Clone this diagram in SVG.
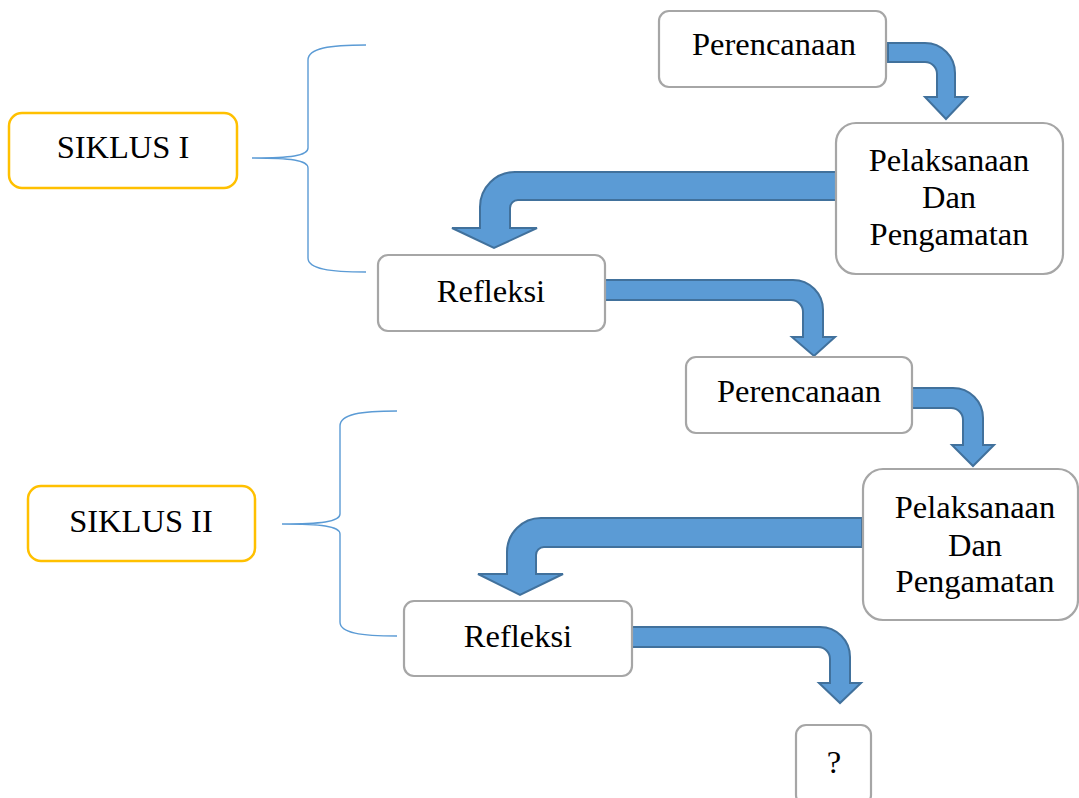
<svg xmlns="http://www.w3.org/2000/svg" width="1079" height="798" viewBox="0 0 1079 798">
<style>
.box{fill:#ffffff;stroke:#a6a6a6;stroke-width:2.2}
.cyc{fill:#ffffff;stroke:#ffc000;stroke-width:2.5}
.t{font-family:"Liberation Serif","Times New Roman",serif;font-size:32.5px;fill:#000000;text-anchor:middle}
.arr{fill:#5b9bd5;stroke:#41719c;stroke-width:2;stroke-linejoin:miter}
.brace{fill:none;stroke:#5b9bd5;stroke-width:1.4}
</style>
<rect width="1079" height="798" fill="#ffffff"/>
<g id="connectors">
<path class="arr" d="M888,43 H925 A30,30 0 0 1 955,73 V97 H967 L946,119 L925,97 H937 V74 A12,12 0 0 0 925,62 H888 Z"/>
<path class="arr" d="M836,172 H515 A35,35 0 0 0 480,207 V228 H452 L494,248 L537,228 H510 V208 A8,8 0 0 1 518,200 H836 Z"/>
<path class="arr" d="M605,280 H793 A30,30 0 0 1 823,310 V337 H835 L814,356 L792,337 H803 V312 A12,12 0 0 0 791,300 H605 Z"/>
<path class="arr" d="M912,388 H953 A30,30 0 0 1 983,418 V445 H994 L973,466 L952,445 H963 V420 A12,12 0 0 0 951,408 H912 Z"/>
<path class="arr" d="M862,518 H541 A34,34 0 0 0 507,552 V574 H478 L520,595 L563,574 H536 V555 A8,8 0 0 1 544,547 H862 Z"/>
<path class="arr" d="M632,627 H820 A30,30 0 0 1 850,657 V683 H861 L840,703 L819,683 H830 V659 A12,12 0 0 0 818,647 H632 Z"/>
<path class="brace" d="M366,45 C330,45 308,48 308,60 V148 C308,156 290,158 252,158 C290,158 308,160 308,168 V258 C308,269 330,272 366,272"/>
<path class="brace" d="M397,411 C361,411 340,414 340,426 V514 C340,522 320,524 282,524 C320,524 340,526 340,534 V622 C340,633 361,636 397,636"/>
</g>
<g id="siklus1">
<rect class="cyc" x="9" y="113" width="228" height="75" rx="13"/>
<text class="t" x="123" y="158">SIKLUS I</text>
</g>
<g id="siklus2">
<rect class="cyc" x="28" y="486" width="227" height="75" rx="13"/>
<text class="t" x="141" y="532">SIKLUS II</text>
</g>
<g id="perencanaan1">
<rect class="box" x="659" y="11" width="227" height="76" rx="10"/>
<text class="t" x="774" y="55">Perencanaan</text>
</g>
<g id="pelaksanaan1">
<rect class="box" x="836" y="123" width="227" height="151" rx="20"/>
<text class="t" x="949" y="171">Pelaksanaan</text>
<text class="t" x="949" y="208">Dan</text>
<text class="t" x="949" y="245">Pengamatan</text>
</g>
<g id="refleksi1">
<rect class="box" x="378" y="255" width="227" height="76" rx="10"/>
<text class="t" x="491" y="302">Refleksi</text>
</g>
<g id="perencanaan2">
<rect class="box" x="686" y="357" width="226" height="76" rx="10"/>
<text class="t" x="799" y="402">Perencanaan</text>
</g>
<g id="pelaksanaan2">
<rect class="box" x="863" y="469" width="215" height="151" rx="20"/>
<text class="t" x="975" y="518">Pelaksanaan</text>
<text class="t" x="975" y="556">Dan</text>
<text class="t" x="975" y="592">Pengamatan</text>
</g>
<g id="refleksi2">
<rect class="box" x="404" y="601" width="228" height="75" rx="10"/>
<text class="t" x="518" y="647">Refleksi</text>
</g>
<g id="next">
<rect class="box" x="796" y="725" width="75" height="80" rx="10"/>
<text class="t" x="834" y="773">?</text>
</g>
</svg>
